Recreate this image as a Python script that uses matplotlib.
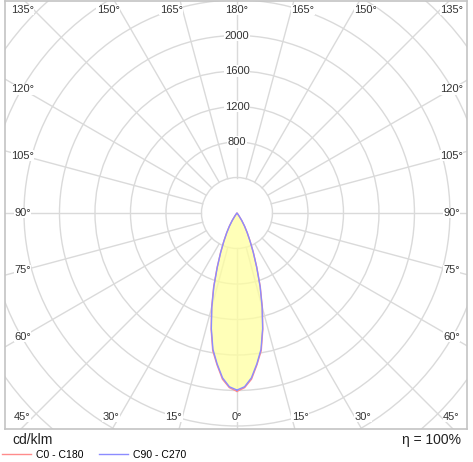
import numpy as np
import matplotlib
matplotlib.use('Agg')
import matplotlib.pyplot as plt
from matplotlib.patches import Circle

plt.rcParams['font.family'] = ['Liberation Sans', 'DejaVu Sans']

# ライト配光データ (cd/klm)
gamma = [0, 2.5, 5, 7.5, 10, 12.5, 15, 17.5, 20, 22.5, 25, 27.5, 30, 32.5, 35, 37.5, 40,
         45, 60, 75, 90, 105, 120, 135, 150, 165, 180]
c0_c180 = [2010, 1970, 1880, 1725, 1575, 1345, 1105, 875, 655, 485, 352, 252, 172, 102, 42, 12, 0,
           0, 0, 0, 0, 0, 0, 0, 0, 0, 0]
c90_c270 = [1995, 1960, 1865, 1715, 1560, 1335, 1095, 865, 648, 478, 346, 248, 168, 98, 38, 10, 0,
            0, 0, 0, 0, 0, 0, 0, 0, 0, 0]

ring_values = [400, 800, 1200, 1600, 2000, 2400, 2800, 3200, 3600]
ring_labels = [800, 1200, 1600, 2000]
angle_labels = [0, 15, 30, 45, 60, 75, 90, 105, 120, 135, 150, 165, 180]
eta = 100

grid_col = '#dadada'
text_col = '#333333'

fig = plt.figure(figsize=(4.73, 4.62), dpi=100)
ax = fig.add_axes([5 / 473, 33 / 462, 462 / 473, 428 / 462])
ax.set_xlim(-2614, 2592)
ax.set_ylim(-2434, 2389)
ax.set_xticks([])
ax.set_yticks([])
for s in ax.spines.values():
    s.set_color('#c4c4c4')
    s.set_linewidth(1.2)

# 同心円
for r in ring_values:
    ax.add_patch(Circle((0, 0), r, fill=False, color=grid_col, lw=1.0, zorder=1))

# 放射線 (15°ごと)
for a in np.arange(0, 360, 15):
    t = np.radians(a)
    ax.plot([400 * np.sin(t), 4000 * np.sin(t)], [-400 * np.cos(t), -4000 * np.cos(t)],
            color=grid_col, lw=1.0, zorder=1)

# 配光曲線
g = np.radians(gamma)
def curve(vals):
    v = np.array(vals, dtype=float)
    x = np.concatenate([v * np.sin(g), (-v * np.sin(g))[::-1]])
    y = np.concatenate([-v * np.cos(g), (-v * np.cos(g))[::-1]])
    return x, y

x0, y0 = curve(c0_c180)
x9, y9 = curve(c90_c270)
ax.fill(x0, y0, color='#ffffa0', alpha=0.75, lw=0, zorder=2)
l1, = ax.plot(x0, y0, color='#ff8c8c', lw=1.0, zorder=3, label='C0 - C180')
l2, = ax.plot(x9, y9, color='#8c8cff', lw=1.0, zorder=3, label='C90 - C270')

# 光度ラベル
for r in ring_labels:
    ax.text(0, r, str(r), ha='center', va='center', fontsize=8, color=text_col, zorder=4,
            bbox=dict(facecolor='white', edgecolor='none', pad=0.5))

# 角度ラベル
wx, hy_top, hy_bot = 2417, 2287, 2299
for side in [1, -1]:
    for a in angle_labels:
        if side == -1 and a in (0, 180):
            continue
        t = np.radians(a)
        dx, dy = side * np.sin(t), -np.cos(t)
        hy = hy_top if dy > 0 else hy_bot
        if a % 90 == 45:
            px, py, ha = side * wx, np.sign(dy) * hy, 'center'
        else:
            tx = wx / abs(dx) if abs(dx) > 1e-9 else np.inf
            ty = hy / abs(dy) if abs(dy) > 1e-9 else np.inf
            if ty < tx:
                px, py = dx * ty, dy * ty
                ha = 'center' if abs(px) < 1 else ('left' if px > 0 else 'right')
            else:
                px, py, ha = dx * tx, dy * tx, 'center'
        ax.text(px, py, '%d°' % a, ha=ha, va='center', fontsize=8, color=text_col, zorder=4,
                bbox=dict(facecolor='white', edgecolor='none', pad=0.3))

# 下部テキスト
fig.text(12 / 473, 22 / 462, 'cd/klm', ha='left', va='center', fontsize=10, color='#222222')
fig.text(461 / 473, 22 / 462, 'η = %d%%' % eta, ha='right', va='center', fontsize=10,
         color='#222222')
fig.legend(handles=[l1, l2], loc='center left', bbox_to_anchor=(0.0, 7 / 462), ncol=2,
           frameon=False, fontsize=7.5, handlelength=2.8, handletextpad=0.5,
           columnspacing=1.4, borderaxespad=0, borderpad=0.2)

fig.savefig('out.png', dpi=100)
